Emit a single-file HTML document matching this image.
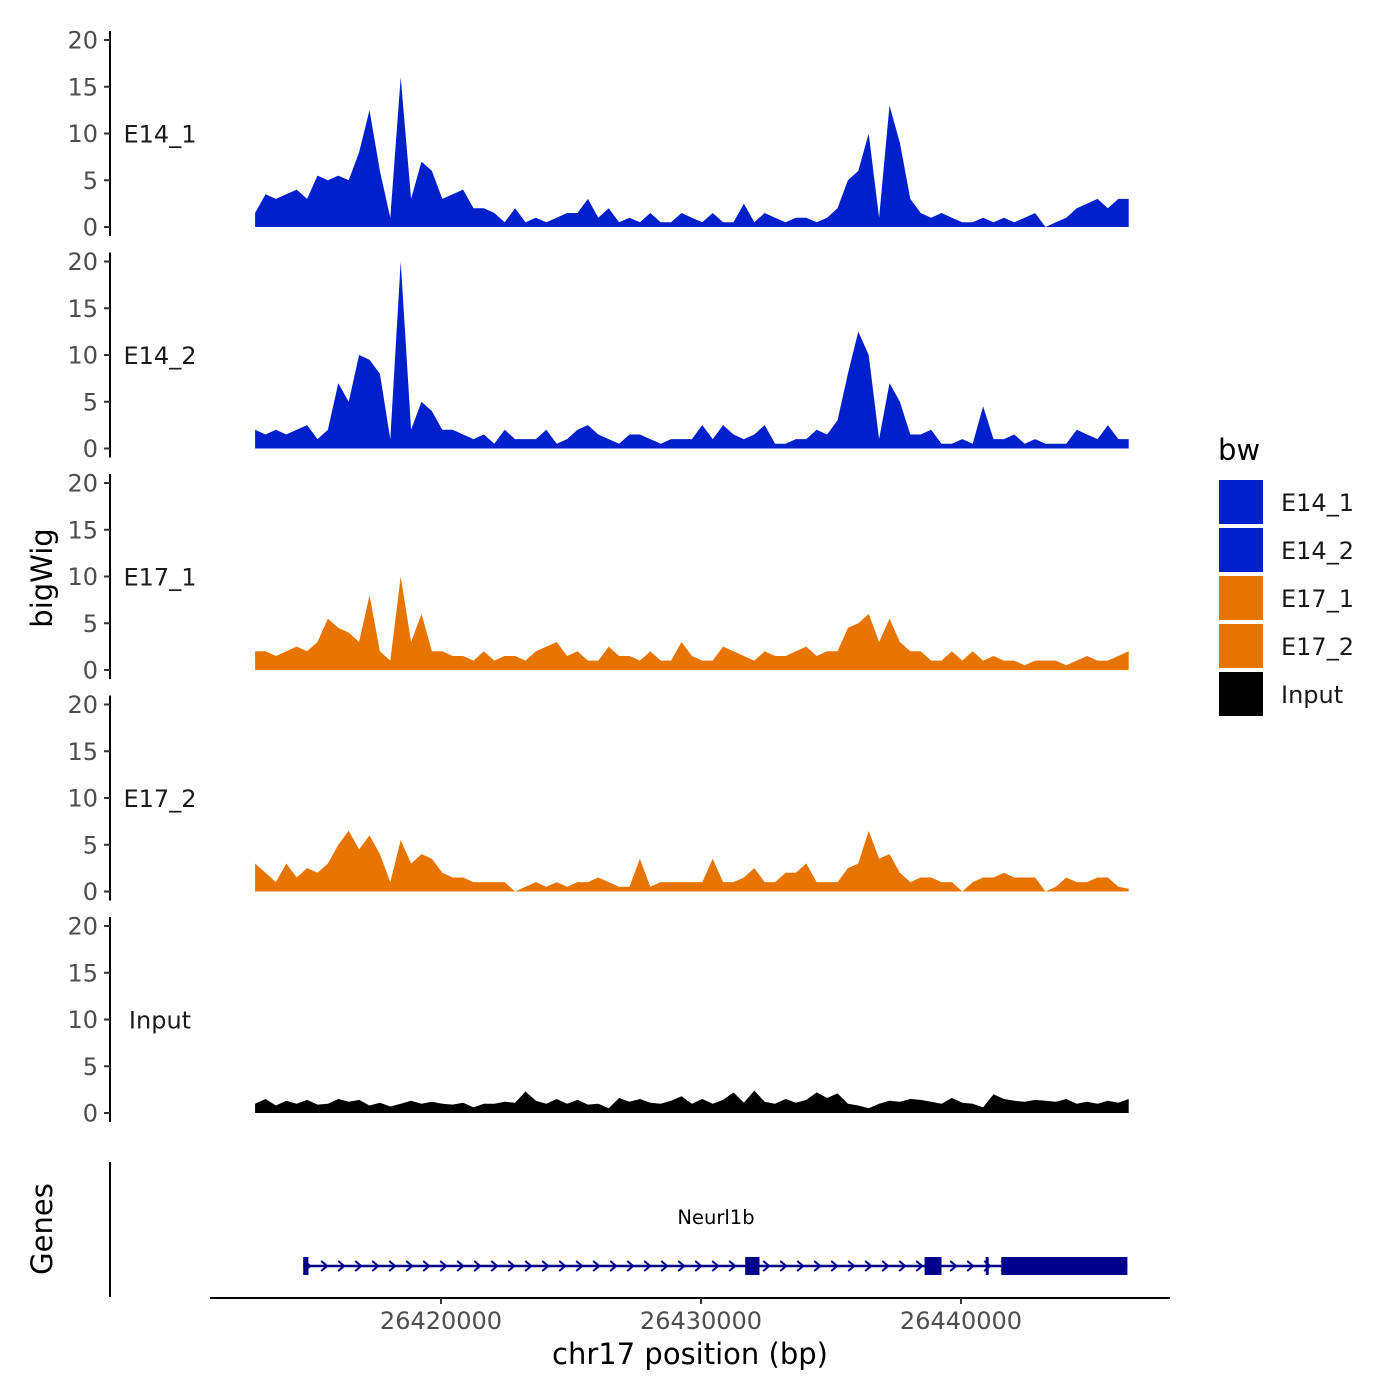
<!DOCTYPE html>
<html>
<head>
<meta charset="utf-8">
<style>
html,body{margin:0;padding:0;background:#fff;}
svg{display:block;font-family:"DejaVu Sans","Liberation Sans",sans-serif;}
.tick{fill:#4d4d4d;font-size:24px;}
</style>
</head>
<body>
<svg id="chart" width="1400" height="1400" viewBox="0 0 1400 1400" xmlns="http://www.w3.org/2000/svg">
<g id="tracks"></g>
<g id="genes"></g>
<g id="xaxis"></g>
<text x="52" y="578" font-size="29" text-anchor="middle" transform="rotate(-90 52 578)">bigWig</text>
<text x="52" y="1229" font-size="29" text-anchor="middle" transform="rotate(-90 52 1229)">Genes</text>
<text x="690" y="1364" font-size="29" text-anchor="middle">chr17 position (bp)</text>
<g id="legend"></g>
</svg>
<script>
const trackNames = ["E14_1","E14_2","E17_1","E17_2","Input"];
const trackColors = ["#0020CC","#0020CC","#E87400","#E87400","#000000"];
const binStart = 26412850;
const binSize = 400;
const yTicks = [0,5,10,15,20];
const xTicks = [26420000,26430000,26440000];
const legendLabels = ["E14_1","E14_2","E17_1","E17_2","Input"];
const E14_1 = [1.5,3.5,3,3.5,4,3,5.5,5,5.5,5,8,12.5,6,1,16,3,7,6,3,3.5,4,2,2,1.5,0.5,2,0.5,1,0.5,1,1.5,1.5,3,1,2,0.5,1,0.5,1.5,0.5,0.5,1.5,1,0.5,1.5,0.5,0.5,2.5,0.5,1.5,1,0.5,1,1,0.5,1,2,5,6,10,1,13,9,3,1.5,1,1.5,1,0.5,0.5,1,0.5,1,0.5,1,1.5,0,0.5,1,2,2.5,3,2,3,3];
const E14_2 = [2,1.5,2,1.5,2,2.5,1,2,7,5,10,9.5,8,1,20,2,5,4,2,2,1.5,1,1.5,0.5,2,1,1,1,2,0.5,1,2,2.5,1.5,1,0.5,1.5,1.5,1,0.5,1,1,1,2.5,1,2.5,1.5,1,1.5,2.5,0.5,0.5,1,1,2,1.5,3,8,12.5,10,1,7,5,1.5,1.5,2,0.5,0.5,1,0.5,4.5,1,1,1.5,0.5,1,0.5,0.5,0.5,2,1.5,1,2.5,1,1];
const E17_1 = [2,2,1.5,2,2.5,2,3,5.5,4.5,4,3,8,2,1,10,3,6,2,2,1.5,1.5,1,2,1,1.5,1.5,1,2,2.5,3,1.5,2,1,1,2.5,1.5,1.5,1,2,1,1,3,1.5,1,1,2.5,2,1.5,1,2,1.5,1.5,2,2.5,1.5,2,2,4.5,5,6,3,5.5,3,2,2,1,1,2,1,2,1,1.5,1,1,0.5,1,1,1,0.5,1,1.5,1,1,1.5,2];
const E17_2 = [3,2,1,3,1.5,2.5,2,3,5,6.5,4.5,6,4,1,5.5,3,4,3.5,2,1.5,1.5,1,1,1,1,0,0.5,1,0.5,1,0.5,1,1,1.5,1,0.5,0.5,3.5,0.5,1,1,1,1,1,3.5,1,1,1.5,2.5,1,1,2,2,3,1,1,1,2.5,3,6.5,3.5,4,2,1,1.5,1.5,1,1,0,1,1.5,1.5,2,1.5,1.5,1.5,0,0.5,1.5,1,1,1.5,1.5,0.5,0.3];
const Input = [1,1.5,0.8,1.3,1,1.4,0.9,1,1.5,1.2,1.4,0.8,1.1,0.7,1,1.3,1,1.2,1,0.9,1.1,0.6,1,1,1.2,1.1,2.3,1.3,1,1.5,1,1.4,0.9,1,0.5,1.6,1.2,1.5,1.1,1,1.3,1.8,1,1.5,1,1.4,2.2,1.1,2.4,1.2,1,1.5,1.1,1.4,2.2,1.6,2.1,1,0.8,0.5,1,1.3,1.2,1.5,1.4,1.2,1,1.6,1.1,1,0.6,2,1.5,1.3,1.2,1.4,1.3,1.2,1.5,1,1.2,1,1.3,1.1,1.5];
const seriesValues = [E14_1,E14_2,E17_1,E17_2,Input];
const geneStart = 26414700, geneEnd = 26446400;
const exonStarts = [26414700,26431700,26438600,26440950,26441550];
const exonEnds =   [26414900,26432250,26439250,26441050,26446400];
const geneLabel = "Neurl1b";

const NS="http://www.w3.org/2000/svg";
function mk(tag,attrs,parent){const e=document.createElementNS(NS,tag);for(const k in attrs)e.setAttribute(k,attrs[k]);if(parent)parent.appendChild(e);return e;}
const xScale = bp => 441 + (bp-26420000)*0.026;
const panelZero = i => 227 + i*221.5;
const yScale = (i,v) => panelZero(i) - v*9.35;

const tracks=document.getElementById('tracks');
trackNames.forEach((name,i)=>{
  const g=mk('g',{},tracks);
  
  
  const ax=mk('line',{x1:110,x2:110,y1:yScale(i,20)-9,y2:panelZero(i)+9,stroke:'#000','stroke-width':2},g);
  
  
  yTicks.forEach(t=>{
    const y=yScale(i,t);
    const tl=mk('line',{x1:104,x2:110,y1:y,y2:y,stroke:'#333','stroke-width':2},g);
    
    
    const tx=mk('text',{x:98,y:y+8.5,'text-anchor':'end',class:'tick'},g);
    tx.textContent=t;
    
    
  });
  const lab=mk('text',{x:160,y:yScale(i,10)+9,'text-anchor':'middle','font-size':'24',fill:'#1a1a1a'},g);
  lab.textContent=name;
  
  
  const vals=seriesValues[i];
  let d='M'+xScale(binStart)+','+panelZero(i);
  vals.forEach((v,k)=>{d+=' L'+xScale(binStart+k*binSize).toFixed(1)+','+yScale(i,v).toFixed(1);});
  d+=' L'+xScale(binStart+(vals.length-1)*binSize).toFixed(1)+','+panelZero(i)+' Z';
  const a=mk('path',{d:d,fill:trackColors[i]},g);
  
  
});

const genes=document.getElementById('genes');
const gax=mk('line',{x1:110,x2:110,y1:1162,y2:1297,stroke:'#000','stroke-width':2},genes);


const gy=1266;
const gl=mk('line',{x1:xScale(geneStart),x2:xScale(geneEnd),y1:gy,y2:gy,stroke:'#00008B','stroke-width':2.5},genes);


for(let x=xScale(geneStart)+4;x<xScale(geneEnd)-10;x+=17){
  const ar=mk('path',{d:`M${x-3},${gy-5} L${x+3},${gy} L${x-3},${gy+5}`,stroke:'#00008B','stroke-width':2,fill:'none'},genes);
  
  
}
exonStarts.forEach((s,k)=>{
  const x1=xScale(s),x2=xScale(exonEnds[k]);
  const r=mk('rect',{x:x1,y:gy-9,width:Math.max(3,x2-x1),height:18,fill:'#00008B'},genes);
  
  
});
const gt=mk('text',{x:716,y:1224,'text-anchor':'middle','font-size':'19.5',fill:'#000'},genes);
gt.textContent=geneLabel;



const xa=document.getElementById('xaxis');
const xl=mk('line',{x1:210,x2:1170,y1:1298,y2:1298,stroke:'#000','stroke-width':2},xa);


xTicks.forEach(t=>{
  const x=xScale(t);
  const tl=mk('line',{x1:x,x2:x,y1:1298,y2:1304,stroke:'#333','stroke-width':2},xa);
  
  
  const tx=mk('text',{x:x,y:1329,'text-anchor':'middle',class:'tick'},xa);
  tx.textContent=t;
  
  
});

const lg=document.getElementById('legend');
const lt=mk('text',{x:1218,y:460,'font-size':'29'},lg);
lt.textContent='bw';


legendLabels.forEach((l,k)=>{
  const y=480+k*48;
  const r=mk('rect',{x:1219,y:y,width:44,height:44,fill:trackColors[k]},lg);
  
  
  const t=mk('text',{x:1281,y:y+31,'font-size':'24',fill:'#1a1a1a'},lg);
  t.textContent=l;
  
  
});
</script>
</body>
</html>
